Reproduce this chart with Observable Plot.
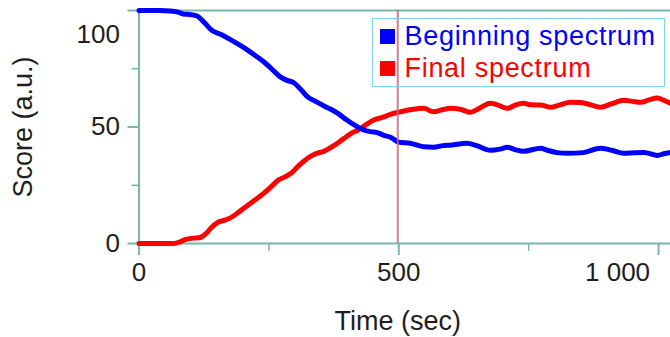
<!DOCTYPE html>
<html>
<head>
<meta charset="utf-8">
<script src="https://cdn.jsdelivr.net/npm/d3@7"></script>
<script src="https://cdn.jsdelivr.net/npm/@observablehq/plot@0.6"></script>
<style>
  html, body { margin: 0; padding: 0; background: #fff; }
  #wrap { position: relative; width: 670px; height: 337px; overflow: hidden; font-family: "Liberation Sans", Arial, sans-serif; }
  #legend { position: absolute; left: 372px; top: 18px; width: 291px; border: 1.5px solid #80d4f2; padding: 1px 0 2px 0; box-sizing: content-box; }
  .row { display: flex; align-items: center; height: 32px; }
  .sw { width: 15px; height: 15px; margin-left: 6.5px; margin-right: 10px; flex: none; }
  .lab { font-size: 27px; letter-spacing: 0.7px; white-space: nowrap; line-height: 32px; }
</style>
</head>
<body>
<div id="wrap"></div>
<script>
// ---- data ----
const seriesNames = ["Beginning spectrum", "Final spectrum"];
const seriesColors = ["#0000ff", "#ff0000"];

const blueTime  = [0, 20, 40, 60, 75, 85, 100, 112, 125, 140, 160, 176, 195, 209, 225, 240, 255, 272, 285, 298, 312, 324, 340, 356, 370, 382, 400, 421, 435, 446, 460, 470, 485, 500, 522, 548, 567, 585, 600, 631, 650, 676, 695, 709, 725, 740, 773, 786, 805, 825, 855, 888, 910, 933, 955, 972, 998, 1010, 1023];
const blueScore = [100, 100, 100, 99.8, 99.3, 98.5, 98.2, 97.6, 95, 91.5, 89.5, 87.5, 85, 83, 80.5, 78, 75, 71.5, 70, 69, 66, 63, 61, 59, 57.5, 56, 53, 50, 48.5, 48, 47.5, 46.5, 45.5, 43.5, 43, 41.5, 41.3, 42, 42.2, 43, 42, 40, 40.5, 41.3, 40.2, 39.6, 40.9, 40, 39, 38.7, 39, 40.9, 40, 38.7, 39, 39.1, 37.8, 38.5, 39.1];

const redTime  = [0, 30, 67, 80, 90, 105, 118, 130, 140, 151, 165, 176, 195, 209, 225, 240, 255, 267, 280, 292, 308, 324, 340, 356, 375, 394, 410, 421, 437, 452, 470, 485, 503, 525, 548, 567, 585, 600, 620, 638, 655, 676, 690, 709, 725, 740, 755, 773, 792, 810, 830, 850, 870, 888, 910, 933, 950, 966, 980, 998, 1010, 1023];
const redScore = [0, 0, 0, 0.8, 1.8, 2.3, 2.6, 4.5, 7, 9, 10, 11, 14, 16.3, 19, 21.5, 24.5, 27, 28.5, 30, 33.5, 36.5, 38.5, 39.6, 42, 45, 47.5, 48.6, 51, 53, 54.2, 55.5, 56.5, 57.5, 58, 56.5, 57.5, 58, 57.5, 56.3, 58, 60.2, 59.5, 58, 59.5, 60.2, 59.5, 59.4, 58.5, 59.5, 60.6, 60.5, 59.5, 58.5, 60, 61.5, 61, 60.6, 61.5, 62.4, 61.5, 60.2];

const markerTime = [498];

const xMajorTicks = [0, 500, 1000];
const xMinorTicks = [250, 750];
const xTickLabels = ["0", "500", "1 000"];
const yMajorTicks = [0, 50, 100];
const yMinorTicks = [25, 75];
const yTickLabels = ["0", "50", "100"];

const xTitle = "Time (sec)";
const yTitle = "Score (a.u.)";

// ---- build ----
const blueRows = blueTime.map((t, i) => ({time: t, score: blueScore[i]}));
const redRows = redTime.map((t, i) => ({time: t, score: redScore[i]}));

const axisColor = "#78b6ae";
const textColor = "#1e1e1e";
const xLab = d => xTickLabels[xMajorTicks.indexOf(d)];
const yLab = d => yTickLabels[yMajorTicks.indexOf(d)];

const chart = Plot.plot({
  width: 670,
  height: 337,
  marginLeft: 138.5,
  marginRight: 0,
  marginTop: 10,
  marginBottom: 94,
  style: {fontFamily: '"Liberation Sans", Arial, sans-serif', fontSize: "26px", background: "#fff", color: textColor},
  x: {domain: [0, 1023]},
  y: {domain: [0, 100]},
  marks: [
    // frame
    Plot.ruleX([0], {stroke: axisColor, strokeWidth: 2}),
    Plot.ruleY([0, 100], {stroke: axisColor, strokeWidth: 2}),
    // ticks
    Plot.axisX(xMajorTicks, {label: null, tickSize: 12, tickFormat: () => "", color: axisColor, strokeWidth: 2}),
    Plot.axisX(xMinorTicks, {label: null, tickSize: 8, tickFormat: () => "", color: axisColor, strokeWidth: 1.5}),
    Plot.axisY(yMajorTicks, {label: null, tickSize: 11, tickFormat: () => "", color: axisColor, strokeWidth: 2}),
    Plot.axisY(yMinorTicks, {label: null, tickSize: 7, tickFormat: () => "", color: axisColor, strokeWidth: 1.5}),
    // tick labels
    Plot.axisX(xMajorTicks.slice(0, 2), {label: null, tickSize: 0, tickPadding: 19, tickFormat: xLab, color: textColor, fontSize: 26}),
    Plot.axisX(xMajorTicks.slice(2), {label: null, tickSize: 0, tickPadding: 19, tickFormat: xLab, color: textColor, fontSize: 26, dx: -41}),
    Plot.axisY(yMajorTicks.slice(0, 2), {label: null, tickSize: 0, tickPadding: 19, tickFormat: yLab, color: textColor, fontSize: 26}),
    Plot.axisY(yMajorTicks.slice(2), {label: null, tickSize: 0, tickPadding: 19, tickFormat: yLab, color: textColor, fontSize: 26, dy: 24}),
    // titles
    Plot.text([yTitle], {text: d => d, frameAnchor: "left", textAnchor: "middle", lineAnchor: "middle", rotate: -90, dx: -116, fontSize: 27, fill: textColor}),
    Plot.text([xTitle], {text: d => d, frameAnchor: "bottom", textAnchor: "middle", lineAnchor: "middle", dx: -7, dy: 78, fontSize: 27, fill: textColor}),
    // data
    Plot.line(redRows, {x: "time", y: "score", stroke: seriesColors[1], strokeWidth: 5, curve: "monotone-x", strokeLinejoin: "round", strokeLinecap: "round"}),
    Plot.line(blueRows, {x: "time", y: "score", stroke: seriesColors[0], strokeWidth: 5, curve: "monotone-x", strokeLinejoin: "round", strokeLinecap: "round"}),
    Plot.ruleX(markerTime, {stroke: "#cc6677", strokeOpacity: 0.85, strokeWidth: 2})
  ]
});

const wrap = document.getElementById("wrap");
wrap.appendChild(chart);

const legend = document.createElement("div");
legend.id = "legend";
seriesNames.forEach((name, i) => {
  const row = document.createElement("div");
  row.className = "row";
  const sw = document.createElement("span");
  sw.className = "sw";
  sw.style.background = seriesColors[i];
  const lab = document.createElement("span");
  lab.className = "lab";
  lab.style.color = seriesColors[i];
  lab.textContent = name;
  row.appendChild(sw);
  row.appendChild(lab);
  legend.appendChild(row);
});
wrap.appendChild(legend);
</script>
</body>
</html>
